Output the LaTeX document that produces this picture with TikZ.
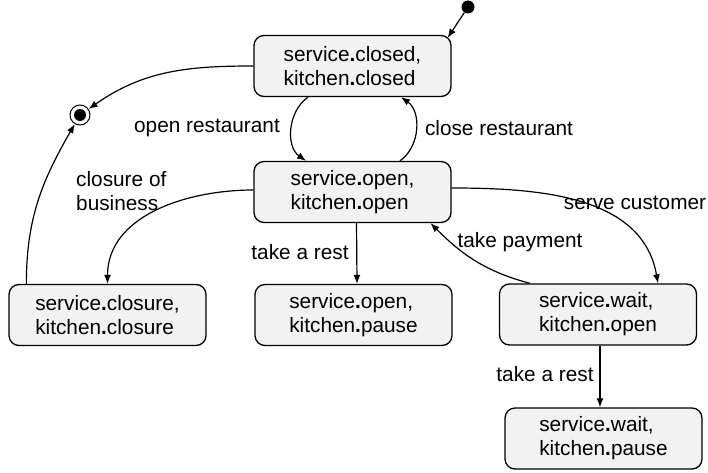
\documentclass[tikz,border=0pt]{standalone}
\usepackage{fontspec}
\setmainfont{Liberation Sans}
\usetikzlibrary{arrows.meta,positioning,calc}
\definecolor{statefill}{RGB}{242,242,242}
\newcommand{\sd}{{\bfseries.}}

\begin{document}
\begin{tikzpicture}
[x=1pt,y=1pt,
font=\fontsize{20.8}{24}\selectfont,
state/.style={shape=rectangle,rounded corners=10pt,draw=black,line width=1.3pt,fill=statefill,minimum width=197pt,minimum height=61pt,align=left,inner sep=0pt},
startdot/.style={shape=circle,fill=black,inner sep=0pt,minimum size=13pt},
enddot/.style={shape=circle,draw=black,line width=1pt,fill=white,inner sep=0pt,minimum size=20pt,
  path picture={\fill[black] (path picture bounding box.center) circle (6pt);}},
mylabel/.style={inner sep=1pt},
myedge/.style={->,>={Latex[length=9pt,width=7pt]},line width=1.2pt}]
\useasboundingbox (0,0) rectangle (708,472);
%%
\node (start) [startdot] at (468,465) {};
\node (final) [enddot] at (80,357) {};
\node (closed) [state] at (352.5,406) {service\sd closed,\\kitchen\sd closed};
\node (open) [state] at (352.5,280) {service\sd open,\\kitchen\sd open};
\node (closure) [state] at (107.5,157) {service\sd closure,\\kitchen\sd closure};
\node (pause) [state] at (353.5,157) {service\sd open,\\kitchen\sd pause};
\node (wait) [state] at (598,157.5) {service\sd wait,\\kitchen\sd open};
\node (waitpause) [state] at (603.5,33.5) {service\sd wait,\\kitchen\sd pause};
%%
\node (lopen) [mylabel] at (207,344) {open restaurant};
\node (lclose) [mylabel] at (499,344) {close restaurant};
\node (lclosure) [mylabel,anchor=west,align=left] at (75,281) {closure of\\business};
\node (lrest) [mylabel] at (300,220) {take a rest};
\node (lserve) [mylabel] at (635,269) {serve customer};
\node (lpay) [mylabel] at (520,230) {take payment};
\node (lrest2) [mylabel] at (545,98) {take a rest};
%%
\draw[myedge] (start) -- ([xshift=-4pt,yshift=-3pt]closed.north east);
\draw[myedge] (closed.west) to[out=180,in=35] (final);
\draw[myedge] ([xshift=18pt]closure.north west) to[out=90,in=240] (final);
\draw[myedge] ([xshift=-44.5pt]closed.south) to[out=215,in=145] ([xshift=-46.5pt]open.north);
\draw[myedge] ([xshift=47.5pt]open.north) to[out=35,in=-35] ([xshift=48.5pt]closed.south);
\draw[myedge] ([yshift=2pt]open.west) to[out=180,in=90] (closure.north);
\draw[myedge] ([xshift=4pt]open.south) -- ([xshift=3.5pt]pause.north);
\draw[myedge] ([yshift=4pt]open.east) to[out=0,in=100] ([xshift=60pt]wait.north);
\draw[myedge] ([xshift=-68pt]wait.north) to[out=165,in=-45] ([xshift=78pt]open.south);
\draw[myedge] ([xshift=2pt]wait.south) -- ([xshift=-3.5pt]waitpause.north);
\end{tikzpicture}
\end{document}
